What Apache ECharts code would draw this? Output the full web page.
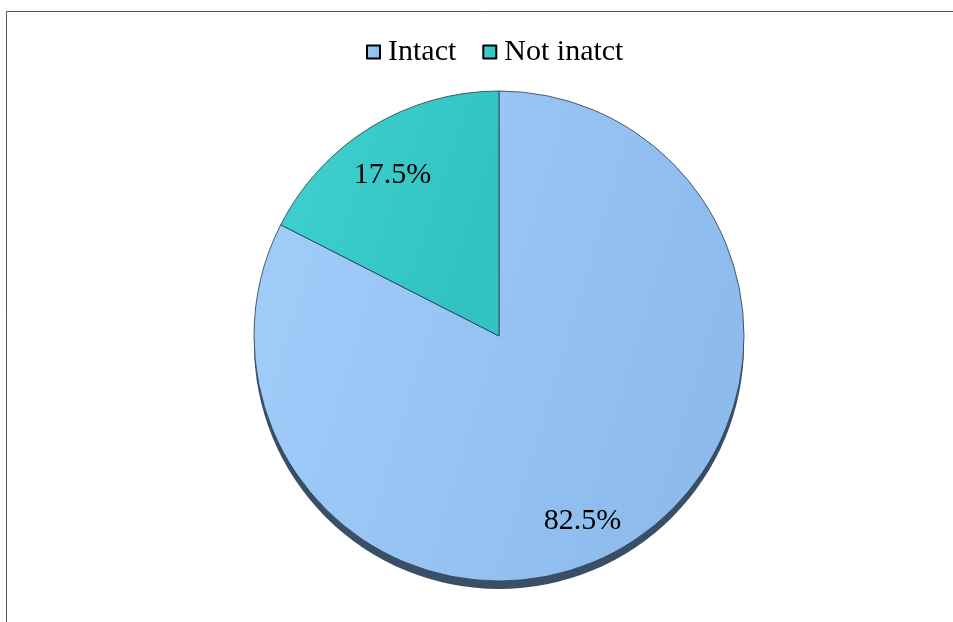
<!DOCTYPE html>
<html><head><meta charset="utf-8">
<script src="https://cdn.jsdelivr.net/npm/echarts@6/dist/echarts.min.js"></script>
<style>html,body{margin:0;padding:0;background:#fff}#c{width:953px;height:622px}</style>
</head><body><div id="c"></div>
<script>
const categories = ['Intact', 'Not inatct'];
const values = [82.5, 17.5];

const chart = echarts.init(document.getElementById('c'));
const font = 'Liberation Serif, Times New Roman, serif';
const colors = [
  new echarts.graphic.LinearGradient(0, 0, 1, 0.3, [{offset: 0, color: '#a2cefb'}, {offset: 1, color: '#8dbbec'}]),
  new echarts.graphic.LinearGradient(0, 0, 1, 0.3, [{offset: 0, color: '#40d2d0'}, {offset: 1, color: '#31c3c2'}])
];
const labelOffsets = [[18, 78], [-41, -54]];

chart.setOption({
  animation: false,
  backgroundColor: '#fff',
  graphic: [{
    type: 'rect', silent: true,
    shape: {x: 6.5, y: 11.5, width: 1000, height: 1000},
    style: {fill: 'none', stroke: '#555', lineWidth: 1}
  }],
  legend: {
    top: 32, left: 361,
    data: categories,
    icon: 'rect', itemWidth: 13, itemHeight: 13, itemGap: 26,
    itemStyle: {borderColor: '#000', borderWidth: 2},
    textStyle: {fontFamily: font, fontSize: 30, color: '#000', padding: [0, 0, 0, 3]}
  },
  series: [
    {
      type: 'pie', silent: true, legendHoverLink: false,
      center: [499, 344], radius: 245,
      label: {show: false}, labelLine: {show: false},
      itemStyle: {color: '#3a4f66', borderWidth: 0},
      data: [{name: '_shadow', value: 1}],
      z: 1
    },
    {
      type: 'pie',
      center: [499, 336], radius: [0, 245],
      startAngle: 90, clockwise: true,
      itemStyle: {borderColor: '#2a3a4a', borderWidth: 0.8},
      label: {
        show: true, position: 'inside',
        fontFamily: font, fontSize: 30, color: '#000',
        formatter: p => p.value.toFixed(1) + '%'
      },
      labelLine: {show: false},
      data: categories.map((n, i) => ({
        name: n, value: values[i],
        itemStyle: {color: colors[i]},
        label: {offset: labelOffsets[i]}
      })),
      z: 2
    }
  ]
});
</script></body></html>
